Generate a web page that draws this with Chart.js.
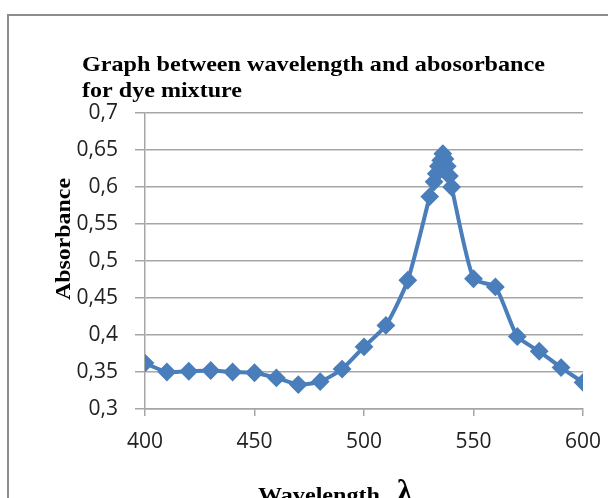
<!DOCTYPE html>
<html>
<head>
<meta charset="utf-8">
<script src="https://cdn.jsdelivr.net/npm/chart.js@4.4.1/dist/chart.umd.min.js"></script>
<style>
  body { margin: 0; background: #fff; }
  #wrap { position: relative; width: 608px; height: 498px; overflow: hidden; }
  #frame { position: absolute; left: 7px; top: 14px; width: 640px; height: 520px; border: 2px solid #8c8c8c; }
  canvas { position: absolute; left: 0; top: 0; }
</style>
</head>
<body>
<div id="wrap">
  <div id="frame"></div>
  <canvas id="chart" width="608" height="498"></canvas>
</div>
<script>
// wavelength (nm) and absorbance
const wavelengths = [400, 410, 420, 430, 440, 450, 460, 470, 480, 490, 500, 510, 520,
  530, 532, 533, 534, 535, 536, 537, 538, 539, 540, 550, 560, 570, 580, 590, 600];
const absorbance = [0.362, 0.350, 0.351, 0.352, 0.350, 0.349, 0.342, 0.333, 0.337, 0.354, 0.384, 0.413, 0.474,
  0.587, 0.607, 0.618, 0.628, 0.636, 0.645, 0.638, 0.628, 0.615, 0.600, 0.476, 0.465, 0.398, 0.378, 0.356, 0.336];

const titleLines = ["Graph between wavelength and abosorbance", "for dye mixture"];
const yLabel = "Absorbance";
const xLabel = "Wavelength";
const xSymbol = "λ";

const blue = "rgb(74,126,187)";
const gridGrey = "#a6a6a6";

// draws text squeezed/stretched to a given width
function fitText(ctx, text, x, y, width) {
  const w = ctx.measureText(text).width;
  ctx.save();
  ctx.translate(x, y);
  ctx.scale(width / w, 1);
  ctx.fillText(text, 0, 0);
  ctx.restore();
}

const labelsPlugin = {
  id: "labels",
  afterDraw(chart) {
    const ctx = chart.ctx;
    ctx.save();
    ctx.fillStyle = "#000";
    ctx.textBaseline = "alphabetic";
    ctx.textAlign = "left";
    ctx.font = "bold 22px 'Liberation Serif'";
    fitText(ctx, titleLines[0], 82, 71, 463);
    fitText(ctx, titleLines[1], 82, 97, 160);

    // y axis title, rotated, sitting over the tick labels
    ctx.font = "bold 21px 'Liberation Serif'";
    ctx.save();
    ctx.translate(70, 300);
    ctx.rotate(-Math.PI / 2);
    fitText(ctx, yLabel, 0, 0, 122);
    ctx.restore();

    // x axis title, cut by the bottom edge
    fitText(ctx, xLabel, 258, 502, 122);
    ctx.font = "bold 31px 'Liberation Serif'";
    ctx.fillText(xSymbol, 397, 501);
    ctx.restore();
  }
};

const fmt = v => Number(v.toFixed(2)).toString().replace(".", ",");

new Chart(document.getElementById("chart"), {
  type: "scatter",
  data: {
    datasets: [{
      data: wavelengths.map((w, i) => ({ x: w, y: absorbance[i] })),
      showLine: true,
      borderColor: blue,
      borderWidth: 4,
      tension: 0.2,
      pointStyle: "rectRot",
      pointRadius: 8,
      pointBackgroundColor: blue,
      pointBorderColor: blue,
      pointBorderWidth: 2
    }]
  },
  options: {
    responsive: false,
    animation: false,
    layout: { padding: { top: 113, left: 0, right: 25, bottom: 0 } },
    plugins: { legend: { display: false }, title: { display: false }, tooltip: { enabled: false } },
    scales: {
      x: {
        type: "linear",
        min: 400,
        max: 600,
        afterFit: s => { s.height = 89; s.paddingRight = 0; },
        grid: { drawOnChartArea: false, color: gridGrey, tickLength: 7, lineWidth: 1.5 },
        border: { color: gridGrey, width: 1.5 },
        ticks: { stepSize: 50, padding: 13, color: "#222", font: { family: "'Open Sans'", size: 21 } }
      },
      y: {
        min: 0.3,
        max: 0.7,
        afterFit: s => { s.width = 145; },
        grid: { color: gridGrey, tickLength: 10, lineWidth: 1.5 },
        border: { color: gridGrey, width: 1.5 },
        ticks: { stepSize: 0.05, padding: 17, color: "#222", callback: fmt, font: { family: "'Open Sans'", size: 21 } }
      }
    }
  },
  plugins: [labelsPlugin]
});
</script>
</body>
</html>
